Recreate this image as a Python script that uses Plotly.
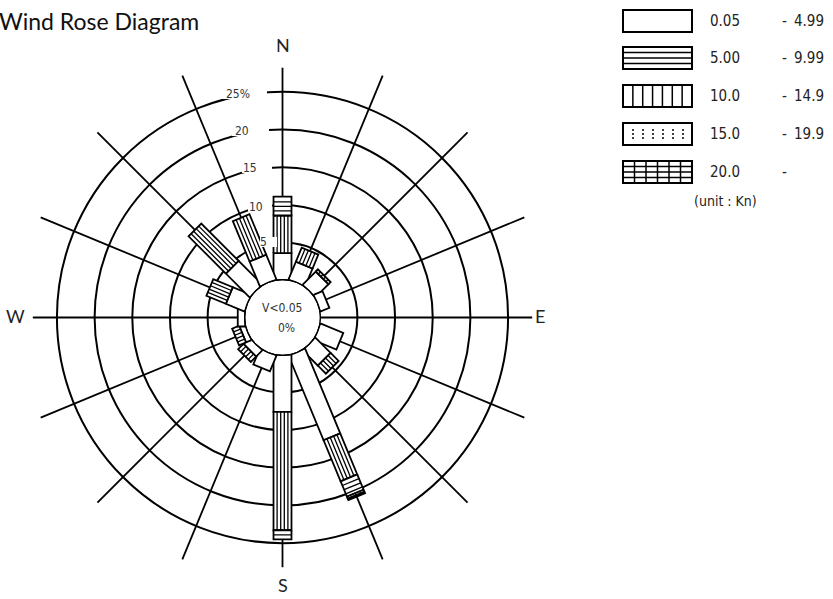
import math
import plotly.graph_objects as go

# ---- data -----------------------------------------------------------------
directions = ["N", "NNE", "NE", "ENE", "E", "ESE", "SE", "SSE",
              "S", "SSW", "SW", "WSW", "W", "WNW", "NW", "NNW"]
dir_angles = [i * 22.5 for i in range(16)]

class_low = ["0.05", "5.00", "10.0", "15.0", "20.0"]
class_high = ["4.99", "9.99", "14.9", "19.9", ""]

# frequency of occurrence (%) for each direction, one list per speed class
freq_0_5 = [3.6, 2.6, 2.5, 1.3, 0.0, 3.3, 2.9, 12.2,
            7.6, 2.3, 1.2, 0.8, 1.0, 2.7, 4.5, 3.6]
freq_5_10 = [5.0, 2.0, 0.4, 0.0, 0.0, 0.0, 1.5, 5.9,
             15.7, 0.0, 1.0, 1.0, 0.0, 2.8, 7.0, 5.8]
freq_10_15 = [2.5, 0.0, 0.0, 0.0, 0.0, 0.0, 0.0, 2.2,
              1.2, 0.0, 0.0, 0.0, 0.0, 0.0, 0.0, 0.0]
freq_15_20 = [0.0, 0.0, 0.0, 0.0, 0.0, 0.0, 0.0, 0.3,
              0.0, 0.0, 0.0, 0.0, 0.0, 0.0, 0.0, 0.0]
freq_20_up = [0.0, 0.0, 0.0, 0.0, 0.0, 0.0, 0.0, 0.2,
              0.0, 0.0, 0.0, 0.0, 0.0, 0.0, 0.0, 0.0]

ring_values = [5, 10, 15, 20, 25]
ring_labels = ["5", "10", "15", "20", "25%"]
compass = ["N", "E", "S", "W"]
calm_label = "V<0.05"
calm_value = "0%"

# ---- geometry of the rose ---------------------------------------------------
R_MAX = 31.56          # radial range of the polar axis (%)
HOLE = 0.1353          # central calm circle, fraction of the outer radius
HALF_W = 0.0327        # half width of a bar, fraction of the outer radius
CARDINAL_LEN = 28.2    # length of N/E/S/W spokes (%)
OTHER_LEN = 29.8       # length of the other spokes (%)

LW = 1.8               # main stroke width
FONT = "DejaVu Sans Condensed, Liberation Sans Narrow, Arial Narrow, sans-serif"
TITLE_FONT = "Lato, Open Sans, sans-serif"


def to_polar(angle, s, lat):
    """Point at distance s (%) along a bar axis and lateral offset lat."""
    a = HOLE + (1 - HOLE) * s / R_MAX
    d = math.hypot(a, lat)
    phi = math.degrees(math.atan2(lat, a))
    return (d - HOLE) / (1 - HOLE) * R_MAX, angle + phi


fig = go.Figure()

# spokes
sr, st = [], []
for i, ang in enumerate(dir_angles):
    length = CARDINAL_LEN if i % 4 == 0 else OTHER_LEN
    sr += [0, length, None]
    st += [ang, ang, None]
fig.add_trace(go.Scatterpolar(r=sr, theta=st, mode="lines",
                              line=dict(color="black", width=LW),
                              cliponaxis=False, hoverinfo="skip",
                              showlegend=False))

classes = [freq_0_5, freq_5_10, freq_10_15, freq_15_20, freq_20_up]

pattern = {k: ([], []) for k in range(5)}
dots_r, dots_t = [], []

for i, ang in enumerate(dir_angles):
    base = 0.0
    for k, series in enumerate(classes):
        v = series[i]
        if v <= 0:
            continue
        s0, s1 = base, base + v
        base = s1
        corners = [to_polar(ang, s0, -HALF_W), to_polar(ang, s1, -HALF_W),
                   to_polar(ang, s1, HALF_W), to_polar(ang, s0, HALF_W)]
        fig.add_trace(go.Scatterpolar(
            r=[c[0] for c in corners] + [corners[0][0]],
            theta=[c[1] for c in corners] + [corners[0][1]],
            mode="lines", fill="toself", fillcolor="white",
            line=dict(color="black", width=LW),
            cliponaxis=False, hoverinfo="skip", showlegend=False))
        pr, pt = pattern[k]
        if k in (1, 4):
            # lines running along the bar
            for f in (-0.6, -0.2, 0.2, 0.6):
                a, b = to_polar(ang, s0, f * HALF_W), to_polar(ang, s1, f * HALF_W)
                pr += [a[0], b[0], None]
                pt += [a[1], b[1], None]
        if k in (2, 4):
            # lines across the bar
            step = 0.6
            s = s0 + step
            while s < s1 - 0.15:
                a, b = to_polar(ang, s, -HALF_W), to_polar(ang, s, HALF_W)
                pr += [a[0], b[0], None]
                pt += [a[1], b[1], None]
                s += step
        if k == 3:
            s = s0 + 0.25
            while s < s1:
                for f in (-0.5, 0.0, 0.5):
                    p = to_polar(ang, s, f * HALF_W)
                    dots_r.append(p[0])
                    dots_t.append(p[1])
                s += 0.4

for k in range(5):
    pr, pt = pattern[k]
    if pr:
        fig.add_trace(go.Scatterpolar(r=pr, theta=pt, mode="lines",
                                      line=dict(color="black", width=1.3),
                                      cliponaxis=False, hoverinfo="skip",
                                      showlegend=False))
if dots_r:
    fig.add_trace(go.Scatterpolar(r=dots_r, theta=dots_t, mode="markers",
                                  marker=dict(color="black", size=2),
                                  cliponaxis=False, hoverinfo="skip",
                                  showlegend=False))

# calm circle
circ_t = [x * 2 for x in range(181)]
fig.add_trace(go.Scatterpolar(r=[0] * len(circ_t), theta=circ_t, mode="lines",
                              line=dict(color="black", width=2.6),
                              cliponaxis=False, hoverinfo="skip",
                              showlegend=False))

W, H = 833, 599
CX, CY, RPX = 282.5, 317.5, 275.0


def px(x):
    return x / W


def py(y):
    return 1 - y / H


fig.update_layout(
    width=W, height=H,
    margin=dict(l=0, r=0, t=0, b=0),
    paper_bgcolor="white", plot_bgcolor="white",
    showlegend=False,
    polar=dict(
        domain=dict(x=[px(CX - RPX), px(CX + RPX)],
                    y=[py(CY + RPX), py(CY - RPX)]),
        hole=HOLE,
        bgcolor="white",
        radialaxis=dict(range=[0, R_MAX], tickvals=ring_values,
                        showticklabels=False, ticks="", showline=False,
                        gridcolor="black", gridwidth=LW,
                        layer="below traces"),
        angularaxis=dict(rotation=90, direction="clockwise",
                         showgrid=False, showline=False,
                         showticklabels=False, ticks="",
                         layer="below traces"),
    ),
)

shapes = []
annotations = []

# ring labels sit in gaps cut into the rings, left of the north spoke
ring_label_pos = [(269, 242, 260, 277), (265, 207, 248, 272), (259, 168, 242, 272),
                  (251, 131, 232, 269), (252, 94, 221, 267)]
for lab, (xr, yc, g0, g1) in zip(ring_labels, ring_label_pos):
    shapes.append(dict(type="rect", xref="paper", yref="paper",
                       x0=px(g0), x1=px(g1), y0=py(yc + 5), y1=py(yc - 5),
                       fillcolor="white", line=dict(width=0), layer="above"))
    annotations.append(dict(text=lab, xref="paper", yref="paper",
                            x=px(xr), y=py(yc), xanchor="right", yanchor="middle",
                            showarrow=False,
                            font=dict(family=FONT, size=12, color="#333")))

# compass letters
for lab, (x, y) in zip(compass, [(282.5, 45), (540, 316), (282.5, 585), (16, 316)]):
    annotations.append(dict(text=lab, xref="paper", yref="paper", x=px(x), y=py(y),
                            xanchor="center", yanchor="middle", showarrow=False,
                            font=dict(family=TITLE_FONT, size=18, color="#222")))

# calm text
annotations.append(dict(text=calm_label, xref="paper", yref="paper",
                        x=px(281.5), y=py(308), showarrow=False,
                        font=dict(family=FONT, size=12, color="#333")))
annotations.append(dict(text=calm_value, xref="paper", yref="paper",
                        x=px(286), y=py(328), showarrow=False,
                        font=dict(family=FONT, size=12, color="#333")))

# title
annotations.append(dict(text="Wind Rose Diagram", xref="paper", yref="paper",
                        x=px(-3), y=py(21), xanchor="left", yanchor="middle",
                        showarrow=False,
                        font=dict(family=TITLE_FONT, size=23, color="#111")))

# legend of speed classes
BX0, BX1, BH = 623, 692, 22
row_top = [10, 47, 85, 123, 161]
for k, top in enumerate(row_top):
    y0, y1 = top, top + BH
    shapes.append(dict(type="rect", xref="paper", yref="paper",
                       x0=px(BX0), x1=px(BX1), y0=py(y1), y1=py(y0),
                       line=dict(color="black", width=2), fillcolor="white"))
    if k in (1, 4):
        for f in (0.25, 0.5, 0.75):
            yy = y0 + f * BH
            shapes.append(dict(type="line", xref="paper", yref="paper",
                               x0=px(BX0), x1=px(BX1), y0=py(yy), y1=py(yy),
                               line=dict(color="black", width=1.5)))
    if k == 2:
        for j in range(1, 7):
            xx = BX0 + j * (BX1 - BX0) / 7
            shapes.append(dict(type="line", xref="paper", yref="paper",
                               x0=px(xx), x1=px(xx), y0=py(y1), y1=py(y0),
                               line=dict(color="black", width=1.5)))
    if k == 4:
        for j in range(1, 6):
            xx = BX0 + j * (BX1 - BX0) / 6
            shapes.append(dict(type="line", xref="paper", yref="paper",
                               x0=px(xx), x1=px(xx), y0=py(y1), y1=py(y0),
                               line=dict(color="black", width=1.5)))
    if k == 3:
        for j in range(6):
            xx = BX0 + 10 + j * 10
            for yy in (y0 + 7, y0 + 11, y0 + 15):
                shapes.append(dict(type="circle", xref="paper", yref="paper",
                                   x0=px(xx - 1), x1=px(xx + 1),
                                   y0=py(yy + 1), y1=py(yy - 1),
                                   fillcolor="black", line=dict(width=0)))
    yc = top + BH / 2
    annotations.append(dict(text=class_low[k], xref="paper", yref="paper",
                            x=px(708), y=py(yc), xanchor="left", yanchor="middle",
                            showarrow=False, font=dict(family=FONT, size=15, color="#222")))
    annotations.append(dict(text="-", xref="paper", yref="paper",
                            x=px(784), y=py(yc), xanchor="center", yanchor="middle",
                            showarrow=False, font=dict(family=FONT, size=15, color="#222")))
    if class_high[k]:
        annotations.append(dict(text=class_high[k], xref="paper", yref="paper",
                                x=px(792), y=py(yc), xanchor="left", yanchor="middle",
                                showarrow=False, font=dict(family=FONT, size=15, color="#222")))
annotations.append(dict(text="(unit : Kn)", xref="paper", yref="paper",
                        x=px(725), y=py(201), xanchor="center", yanchor="middle",
                        showarrow=False, font=dict(family=FONT, size=14, color="#222")))

fig.update_layout(shapes=shapes, annotations=annotations)
fig.write_html("out.html")
